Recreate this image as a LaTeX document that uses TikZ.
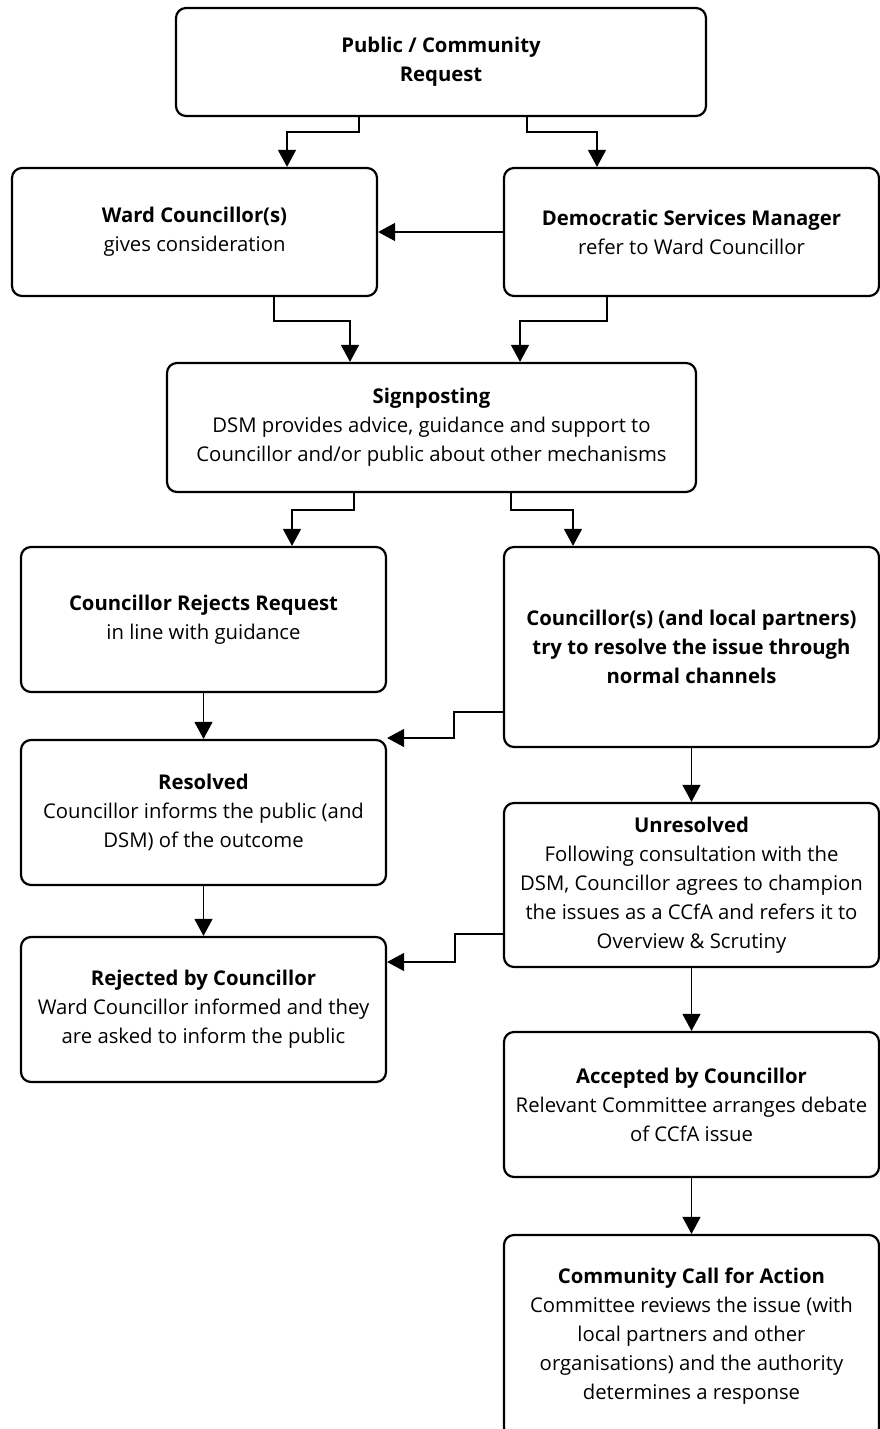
\documentclass[tikz,border=0pt]{standalone}
\usepackage{fontspec}
\setmainfont{Open Sans}
\usetikzlibrary{arrows.meta}
\usetikzlibrary{positioning}

\begin{document}
\begin{tikzpicture}[x=1pt,y=1pt,>={Triangle[width=18pt,length=17pt]},
			line width=1.3pt]
			\tikzset{box/.style={draw,line width=2.2pt,rounded corners=10pt,align=center,
					inner sep=0pt,font=\fontsize{20.3}{29}\selectfont,
					execute at begin node={\rule{0pt}{23pt}}}}
			\tikzset{link/.style={->,shorten >=0pt}}
			
			\useasboundingbox (0,0) rectangle (880,-1429);
			\clip (0,0) rectangle (880,-1429);
			
			\node[box,minimum width=530,minimum height=108] (req) at (441,-62)
				{\textbf{Public / Community}\\\textbf{Request}};
			\node[box,minimum width=365,minimum height=128] (ward) at (194.5,-232)
				{\textbf{Ward Councillor(s)}\\gives consideration};
			\node[box,minimum width=375,minimum height=128] (dsm) at (691.5,-232)
				{\textbf{Democratic Services Manager}\\refer to Ward Councillor};
			\node[box,minimum width=529,minimum height=129] (sign) at (431.5,-427.5)
				{\textbf{Signposting}\\DSM provides advice, guidance and support to\\Councillor and/or public about other mechanisms};
			\node[box,minimum width=365,minimum height=145] (rej) at (203.5,-619.5)
				{\textbf{Councillor Rejects Request}\\in line with guidance};
			\node[box,minimum width=375,minimum height=200] (try) at (691.5,-647)
				{\textbf{Councillor(s) (and local partners)}\\\textbf{try to resolve the issue through}\\\textbf{normal channels}};
			\node[box,minimum width=365,minimum height=145] (resolved) at (203.5,-812.5)
				{\textbf{Resolved}\\Councillor informs the public (and\\DSM) of the outcome};
			\node[box,minimum width=375,minimum height=164] (unres) at (691.5,-885)
				{\textbf{Unresolved}\\Following consultation with the\\DSM, Councillor agrees to champion\\the issues as a CCfA and refers it to\\Overview \& Scrutiny};
			\node[box,minimum width=365,minimum height=145] (rejby) at (203.5,-1009.5)
				{\textbf{Rejected by Councillor}\\Ward Councillor informed and they\\are asked to inform the public};
			\node[box,minimum width=375,minimum height=145] (acc) at (691.5,-1104.5)
				{\textbf{Accepted by Councillor}\\Relevant Committee arranges debate\\of CCfA issue};
			\node[box,minimum width=375,minimum height=203] (cca) at (691.5,-1336.5)
				{\textbf{Community Call for Action}\\Committee reviews the issue (with\\local partners and other\\organisations) and the authority\\determines a response};
			
			% request splits
			\draw[link] ([xshift=-82pt]req.south) -- ++(0,-15) -| ([xshift=92.5pt]ward.north);
			\draw[link] ([xshift=86pt]req.south) -- ++(0,-15) -| ([xshift=-94.5pt]dsm.north);
			\draw[link] (dsm.west) -- (ward.east);
			
			% into signposting
			\draw[link] ([xshift=79.5pt]ward.south) -- ++(0,-24) -| ([xshift=-81.5pt]sign.north);
			\draw[link] ([xshift=-84.5pt]dsm.south) -- ++(0,-24) -| ([xshift=88.5pt]sign.north);
			
			% out of signposting
			\draw[link] ([xshift=-77.5pt]sign.south) -- ++(0,-17) -| ([xshift=88.5pt]rej.north);
			\draw[link] ([xshift=79.5pt]sign.south) -- ++(0,-17) -| ([xshift=-118.5pt]try.north);
			
			% left column
			\draw[link] (rej.south) -- (resolved.north);
			\draw[link] (resolved.south) -- (rejby.north);
			\draw[link] ([yshift=-65pt]try.west) -- ++(-49,0) |- ([yshift=74.5pt]resolved.east);
			\draw[link] ([yshift=-49pt]unres.west) -- ++(-48,0) |- ([yshift=47.5pt]rejby.east);
			
			% right column
			\draw[link] (try.south) -- (unres.north);
			\draw[link] (unres.south) -- (acc.north);
			\draw[link] (acc.south) -- (cca.north);
			
			;
\end{tikzpicture}
\end{document}
